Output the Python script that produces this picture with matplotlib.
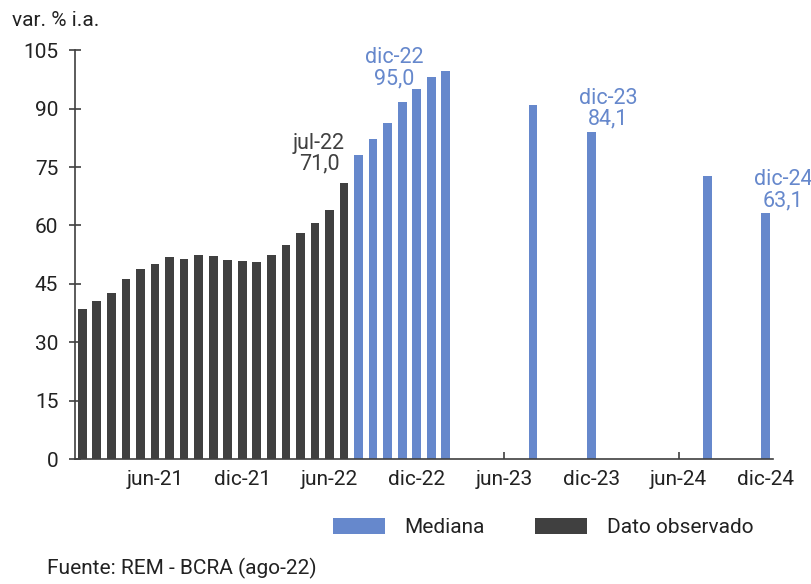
import matplotlib
matplotlib.use("Agg")
import matplotlib.pyplot as plt
from matplotlib.patches import Patch

plt.rcParams['font.family'] = ['Roboto', 'DejaVu Sans']

# Monthly index 0 = ene-21 ... 47 = dic-24
obs_months = list(range(0, 19))  # ene-21 .. jul-22
obs_values = [38.5, 40.7, 42.6, 46.3, 48.8, 50.2, 51.8, 51.4, 52.5, 52.1,
              51.2, 50.9, 50.7, 52.3, 55.1, 58.0, 60.7, 64.0, 71.0]
med_months = [19, 20, 21, 22, 23, 24, 25, 31, 35, 43, 47]  # ago-22..feb-23, ago-23, dic-23, ago-24, dic-24
med_values = [78.2, 82.3, 86.3, 91.7, 95.0, 98.2, 99.6, 90.9, 84.1, 72.7, 63.1]

tick_pos = [5, 11, 17, 23, 29, 35, 41, 47]
tick_labels = ["jun-21", "dic-21", "jun-22", "dic-22", "jun-23", "dic-23", "jun-24", "dic-24"]

# annotations
ann_month = [18, 23, 35, 47]
ann_value = [71.0, 95.0, 84.1, 63.1]
ann_label = ["jul-22", "dic-22", "dic-23", "dic-24"]

dark = "#404040"
blue = "#6688CC"
ann_color = [dark, blue, blue, blue]
ann_dx = [-25, -23, 17, 17]
ann_dy = [8, 0, 2, 2]

fig = plt.figure(figsize=(8.12, 5.84), dpi=100)
ax = fig.add_axes([0.0924, 0.214, 0.952 - 0.0924, 0.914 - 0.214])

ax.bar(obs_months, obs_values, width=0.6, color=dark, zorder=2)
ax.bar(med_months, med_values, width=0.6, color=blue, zorder=2)

ax.set_xlim(-0.5, 47.5)
ax.set_ylim(0, 105)
ax.set_yticks(range(0, 106, 15))
ax.set_xticks(tick_pos)
ax.set_xticklabels(tick_labels)

for s in ["top", "right"]:
    ax.spines[s].set_visible(False)
for s in ["left", "bottom"]:
    ax.spines[s].set_color("#404040")
    ax.spines[s].set_linewidth(1.2)

ax.tick_params(axis="y", direction="inout", length=8, width=1.2, color="#404040",
               labelsize=15, labelcolor="#222222", pad=8)
ax.tick_params(axis="x", direction="in", length=5, width=1.2, color="#404040",
               labelsize=15, labelcolor="#222222", pad=8)

for m, v, lab, c, dx, dy in zip(ann_month, ann_value, ann_label, ann_color, ann_dx, ann_dy):
    txt = f"{lab}\n{v:.1f}".replace(".", ",")
    ax.annotate(txt, xy=(m, v), xytext=(dx, dy), textcoords="offset pixels",
                ha="center", va="bottom", color=c, fontsize=15.5, linespacing=1.0,
                annotation_clip=False)

fig.text(0.015, 0.965, "var. % i.a.", fontsize=15, color="#222222", va="center", ha="left")
fig.text(0.058, 0.027, "Fuente: REM - BCRA (ago-22)", fontsize=15, color="#222222", va="center", ha="left")

handles = [Patch(facecolor=blue, label="Mediana"), Patch(facecolor=dark, label="Dato observado")]
fig.legend(handles=handles, loc="center", bbox_to_anchor=(0.669, 0.097), ncol=2, frameon=False,
           fontsize=15, handlelength=2.5, handleheight=0.85, columnspacing=2.4, handletextpad=0.95,
           labelcolor="#222222")

fig.savefig("out.png", dpi=100)
